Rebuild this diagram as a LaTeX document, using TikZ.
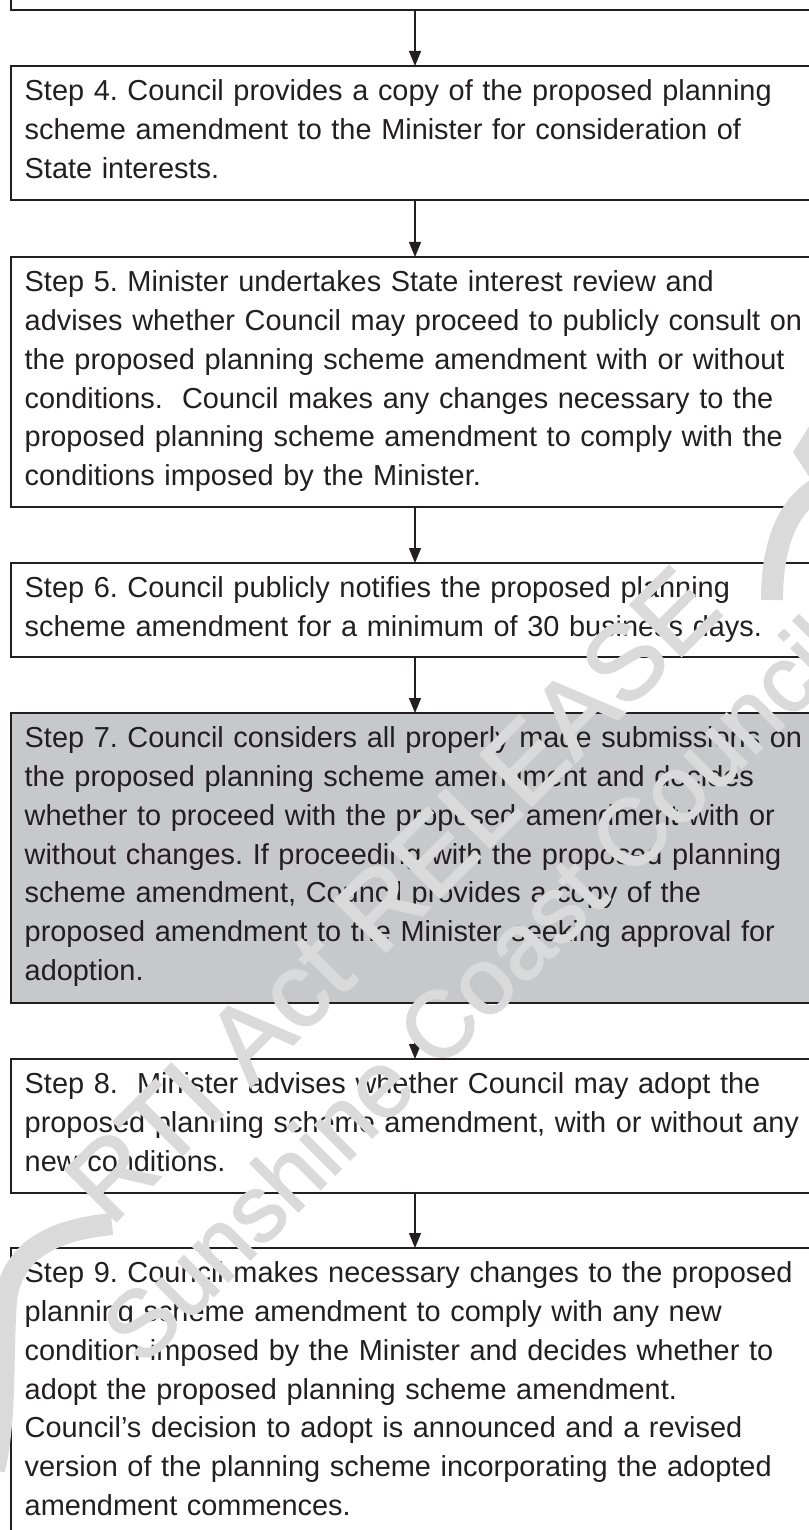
\documentclass[tikz,border=0pt]{standalone}
\usepackage{fontspec}
\setmainfont{Liberation Sans}
\newfontfamily\stampfont[FakeBold=1.6]{Liberation Sans}
\usetikzlibrary{arrows.meta}
\definecolor{ink}{RGB}{35,31,32}
\definecolor{shade}{RGB}{199,200,202}
\definecolor{stampgray}{RGB}{218,218,218}
\frenchspacing
\setlength{\parindent}{0pt}
\newcommand{\firstline}{\rule{0pt}{24pt}}
\begin{document}
\begin{tikzpicture}[x=1pt,y=-1pt,
  stepbox/.style={rectangle, draw=ink, line width=2pt, minimum width=808pt,
    inner sep=0pt, outer sep=0pt, anchor=north},
  steptext/.style={text=ink, font=\fontsize{28.9}{38.7}\selectfont, align=left,
    text width=800pt, inner sep=0pt, anchor=north west},
  flow/.style={draw=ink, line width=1.3pt, -{Triangle[length=15pt,width=12pt]}},
  stamp/.style={text=stampgray, rotate=45, anchor=base, inner sep=0pt},
  stampline/.style={draw=stampgray, line width=22pt}]
\useasboundingbox (0,0) rectangle (808,1530);

% step boxes (right edges run past the page)
\node[stepbox, minimum height=110pt] (b3) at (415,-100) {};
\node[stepbox, minimum height=134pt] (b4) at (415,66) {};
\node[stepbox, minimum height=250pt] (b5) at (415,257) {};
\node[stepbox, minimum height=94pt]  (b6) at (415,563) {};
\node[stepbox, minimum height=290pt, fill=shade] (b7) at (415,713) {};
\node[stepbox, minimum height=134pt] (b8) at (415,1059) {};
\node[stepbox, minimum height=320pt] (b9) at (415,1248) {};

% step texts
\node[steptext] (t4) at (24.5,76.7) {\firstline Step 4. Council provides a copy of the proposed planning\\
scheme amendment to the Minister for consideration of\\
State interests.};
\node[steptext] (t5) at (24.5,267.7) {\firstline Step 5. Minister undertakes State interest review and\\
advises whether Council may proceed to publicly consult on\\
the proposed planning scheme amendment with or without\\
conditions.\ \ Council makes any changes necessary to the\\
proposed planning scheme amendment to comply with the\\
conditions imposed by the Minister.};
\node[steptext] (t6) at (24.5,573.7) {\firstline Step 6. Council publicly notifies the proposed planning\\
scheme amendment for a minimum of 30 business days.};
\node[steptext] (t7) at (24.5,723.7) {\firstline Step 7. Council considers all properly made submissions on\\
the proposed planning scheme amendment and decides\\
whether to proceed with the proposed amendment with or\\
without changes. If proceeding with the proposed planning\\
scheme amendment, Council provides a copy of the\\
proposed amendment to the Minister seeking approval for\\
adoption.};
\node[steptext] (t8) at (24.5,1069.7) {\firstline Step 8.\ \ Minister advises whether Council may adopt the\\
proposed planning scheme amendment, with or without any\\
new conditions.};
\node[steptext] (t9) at (24.5,1258.7) {\firstline Step 9. Council makes necessary changes to the proposed\\
planning scheme amendment to comply with any new\\
condition imposed by the Minister and decides whether to\\
adopt the proposed planning scheme amendment.\\
Council’s decision to adopt is announced and a revised\\
version of the planning scheme incorporating the adopted\\
amendment commences.};

% connectors
\draw[flow] (b3.south) -- (b4.north);
\draw[flow] (b4.south) -- (b5.north);
\draw[flow] (b5.south) -- (b6.north);
\draw[flow] (b6.south) -- (b7.north);
\draw[flow] (b7.south) -- (b8.north);
\draw[flow] (b8.south) -- (b9.north);

% release stamp laid over the page
\draw[stampline] (112,1224) .. controls (50,1230) and (12,1252) .. (6,1300)
  .. controls (2,1360) and (6,1420) .. (-6,1470);
\draw[stampline] (818,488) .. controls (790,505) and (772,540) .. (772,600);
\fill[stampgray] (810,425) -- (793,452) -- (810,478) -- cycle;
\node[stamp, font=\stampfont\fontsize{106}{106}\selectfont] (wm1) at (418,920) {RTI Act RELEASE};
\node[stamp, font=\stampfont\fontsize{94}{94}\selectfont] (wm2) at (497,1013) {Sunshine Coast Council};
\end{tikzpicture}
\end{document}
